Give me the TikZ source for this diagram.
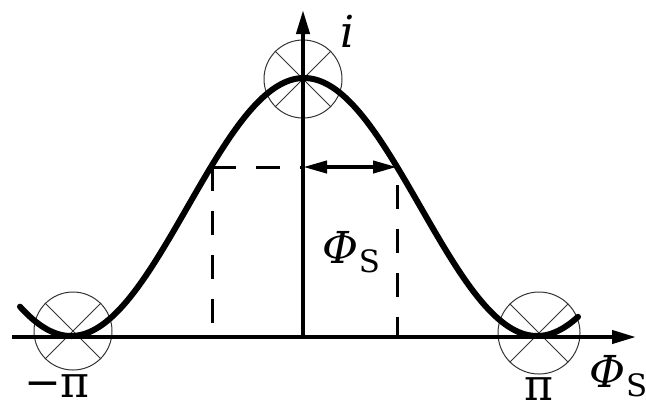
\documentclass[tikz,border=0pt]{standalone}
\usepackage{fontspec}
\setmainfont{DejaVu Serif}
\newfontfamily\labelface{DejaVu Serif}
\usetikzlibrary{arrows.meta}
\tikzset{
  axisline/.style={line width=2pt,-{Triangle[length=12pt,width=6.5pt]}},
  waveline/.style={line width=3pt,line cap=round},
  guideline/.style={line width=1.5pt,dash pattern=on 12pt off 10pt},
  spanarrow/.style={line width=2pt,{Triangle[length=12pt,width=6pt]}-{Triangle[length=12pt,width=6pt]}},
  crossring/.style={circle,draw=black!80,line width=0.5pt,minimum size=39pt,inner sep=0pt},
  crossleg/.style={draw=black!80,line width=0.5pt},
  labelnode/.style={font=\labelface\fontsize{22}{26}\selectfont,inner sep=0pt}
}

\begin{document}
\begin{tikzpicture}[x=0.5pt,y=-0.5pt]
  \useasboundingbox (0,0) rectangle (646,409);

  % rings at the extrema
  \node[crossring] (ringtop) at (303,79) {};
  \node[crossring] (ringleft) at (73,331) {};
  \node[crossring,minimum size=41pt] (ringright) at (539,333) {};
  \foreach \r in {ringtop,ringleft,ringright}{
    \draw[crossleg] (\r.45)--(\r.225) (\r.135)--(\r.315);
  }

  % axes
  \coordinate (origin) at (303,337);
  \coordinate (xstart) at (12,337);
  \coordinate (xtip) at (636,337);
  \coordinate (ytip) at (303,10);
  \draw[axisline] (xstart)--(xtip);
  \draw[axisline] (origin)--(ytip);

  % curve
  \draw[waveline] plot[domain=20:578,samples=120,smooth]
    (\x,{336-129*(1+cos((\x-304)/233*180))});

  % width marks
  \coordinate (lefthit) at (212,167);
  \coordinate (righthit) at (397,167);
  \coordinate (axismid) at (303,167);
  \coordinate (leftfoot) at (212,337);
  \coordinate (rightfoot) at (397,337);
  \coordinate (rightgap) at (397,185);
  \draw[guideline] (lefthit)--(axismid);
  \draw[guideline] (lefthit)--(leftfoot);
  \draw[guideline] (rightgap)--(rightfoot);
  \draw[spanarrow] (axismid)--(righthit);

  % labels
  \node[labelnode] (ilabel) at (348,31) {\textit{i}};
  \node[labelnode] (negpi) at (57,386) {−π};
  \node[labelnode] (pospi) at (539,389) {π};
  \node[labelnode] (phiaxis) at (619,376) {\textit{Φ}\textsubscript{S}};
  \node[labelnode] (phiwidth) at (352,252) {\textit{Φ}\textsubscript{S}};
\end{tikzpicture}
\end{document}
